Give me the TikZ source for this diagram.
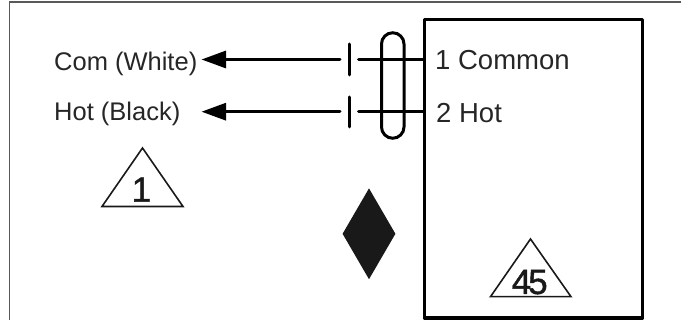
\documentclass[tikz,border=0pt]{standalone}
\usepackage{fontspec}
\setmainfont{Liberation Sans}
\newfontfamily\flagfont[FakeBold=1.2]{Liberation Sans}
\usetikzlibrary{arrows.meta,positioning,shapes.geometric}
\tikzset{
  wire/.style={line width=3pt,line cap=round},
  lead/.style={wire,{Triangle[length=24.5pt,width=17pt]}-},
  lab/.style={inner sep=0pt,anchor=base west,font=\fontsize{25.5}{28}\selectfont,text=black!85},
  pinlab/.style={lab,font=\fontsize{27.5}{30}\selectfont},
  flag/.style={draw=black!90,line width=1.6pt,line join=miter},
  flagnum/.style={inner sep=0pt,anchor=base,font=\flagfont\fontsize{35}{38}\selectfont,text=black!90}
}
\begin{document}
\begin{tikzpicture}[x=1pt,y=-1pt]
\useasboundingbox (0,0) rectangle (681,320);
\draw[black!65,line width=1.2pt] (9.5,320) -- (9.5,2) -- (681,2);
\draw[line width=3.8pt,line join=round] (424.5,19.5) rectangle (642.5,318);
\node[lab] (com) at (54,70.5) {Com (White)};
\node[lab] (hot) at (54,121) {Hot (Black)};
\node[pinlab] (common) at (435,70) {1 Common};
\node[pinlab] (hothot) at (436,123) {2 Hot};
\coordinate (tip1) at (201.5,59.5);
\coordinate (tip2) at (201.5,111.7);
\coordinate (pin1) at (424,59.5);
\coordinate (pin2) at (424,111.7);
\coordinate (gap1a) at (340,59.5);
\coordinate (gap1b) at (358.5,59.5);
\coordinate (gap2a) at (340,111.7);
\coordinate (gap2b) at (358.5,111.7);
\draw[lead] (tip1) -- (gap1a);
\draw[lead] (tip2) -- (gap2a);
\draw[wire] (gap1b) -- (pin1);
\draw[wire] (gap2b) -- (pin2);
\draw[wire] (349,44) -- (349,75);
\draw[wire] (349,97) -- (349,127);
\draw[wire] (381.5,44) arc[start angle=180,end angle=360,radius=11.25] -- (404,127) arc[start angle=0,end angle=180,radius=11.25] -- cycle;
\node[diamond,fill=black!90,minimum width=53pt,minimum height=91pt,inner sep=0pt,shape aspect=0.58] (dia) at (369,233.8) {};
\draw[flag] (142.5,148) -- (183,206.5) -- (102,206.5) -- cycle;
\node[flagnum] (one) at (141.5,201.7) {1};
\draw[flag] (530.5,239) -- (571,296.7) -- (490.5,296.7) -- cycle;
\node[flagnum] (ff) at (529.7,294) {4\kern-3pt 5};
\end{tikzpicture}
\end{document}
